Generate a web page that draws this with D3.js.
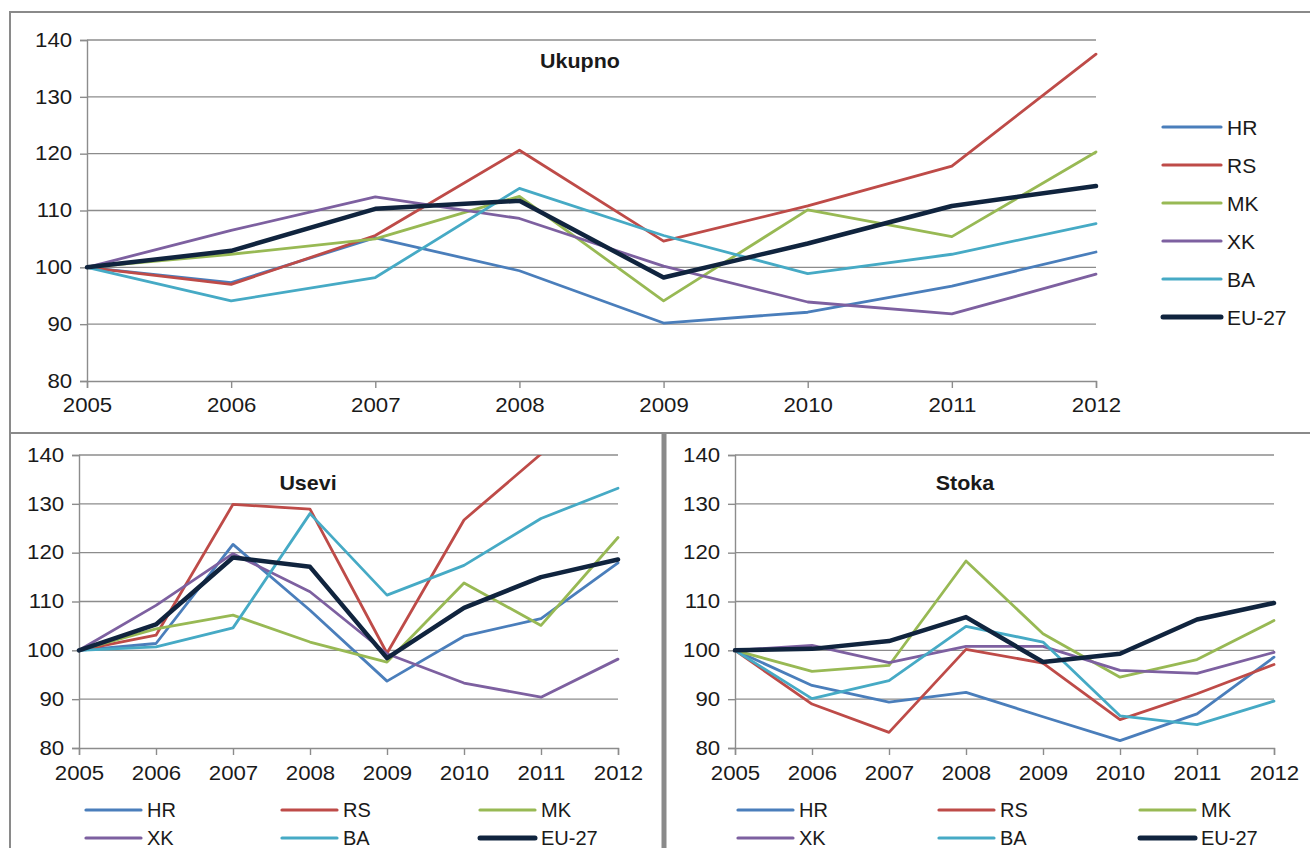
<!DOCTYPE html>
<html><head><meta charset="utf-8">
<script src="https://cdn.jsdelivr.net/npm/d3@7"></script>
<style>
html,body{margin:0;padding:0;background:#fff;}
svg{display:block;}
text{font-family:"Liberation Sans",Arial,sans-serif;fill:#1a1a1a;}
</style></head>
<body>
<svg id="chart" width="1310" height="848"></svg>
<script>
// ---- data ----
const years = [2005, 2006, 2007, 2008, 2009, 2010, 2011, 2012];
const seriesNames = ["HR", "RS", "MK", "XK", "BA", "EU-27"];
const seriesColors = ["#4a7ebb", "#be4b48", "#98b954", "#7d60a0", "#46aac5", "#10243e"];
const yTicks = [80, 90, 100, 110, 120, 130, 140];
const panelTitles = ["Ukupno", "Usevi", "Stoka"];

// Ukupno (total)
const ukupnoHR = [100, 97.3, 105.2, 99.4, 90.2, 92.1, 96.7, 102.7];
const ukupnoRS = [100, 97.0, 105.6, 120.6, 104.6, 110.8, 117.8, 137.5];
const ukupnoMK = [100, 102.3, 105.0, 112.5, 94.1, 110.1, 105.4, 120.3];
const ukupnoXK = [100, 106.5, 112.4, 108.6, 100.2, 93.9, 91.8, 98.8];
const ukupnoBA = [100, 94.1, 98.2, 113.9, 105.6, 98.9, 102.3, 107.7];
const ukupnoEU = [100, 102.9, 110.3, 111.7, 98.2, 104.2, 110.8, 114.3];

// Usevi (crops)
const useviHR = [100, 101.4, 121.7, 108.2, 93.7, 102.9, 106.5, 117.9];
const useviRS = [100, 103.1, 129.9, 128.9, 99.4, 126.7, 140.2, 152.0];
const useviMK = [100, 104.4, 107.2, 101.7, 97.6, 113.8, 105.1, 123.1];
const useviXK = [100, 109.2, 119.8, 112.0, 99.3, 93.3, 90.4, 98.2];
const useviBA = [100, 100.7, 104.6, 128.0, 111.3, 117.4, 127.0, 133.2];
const useviEU = [100, 105.3, 119.0, 117.1, 98.4, 108.7, 115.0, 118.6];

// Stoka (livestock)
const stokaHR = [100, 92.8, 89.4, 91.4, 86.4, 81.5, 87.0, 98.6];
const stokaRS = [100, 89.0, 83.2, 100.2, 97.4, 85.8, 91.1, 97.1];
const stokaMK = [100, 95.7, 96.9, 118.3, 103.4, 94.5, 98.1, 106.1];
const stokaXK = [100, 101.0, 97.5, 100.8, 100.8, 95.9, 95.3, 99.6];
const stokaBA = [100, 90.1, 93.8, 104.9, 101.7, 86.6, 84.8, 89.6];
const stokaEU = [100, 100.3, 101.9, 106.8, 97.6, 99.3, 106.3, 109.7];

const panelData = [
  [ukupnoHR, ukupnoRS, ukupnoMK, ukupnoXK, ukupnoBA, ukupnoEU],
  [useviHR, useviRS, useviMK, useviXK, useviBA, useviEU],
  [stokaHR, stokaRS, stokaMK, stokaXK, stokaBA, stokaEU]
];

// ---- layout ----
const svg = d3.select("#chart");
const frameColor = "#8a8a8a";
const gridColor = "#8c8c8c";

const panels = [
  {x0: 87, x1: 1096, yTop: 40, yBot: 381, title: {x: 580, y: 68},
   legend: {type: "vertical", x: 1163, y: 127, dy: 38, len: 58, fs: 21},
   tickFs: 19.5, labelBase: 412},
  {x0: 79, x1: 618, yTop: 455, yBot: 748, title: {x: 308, y: 490},
   legend: {type: "grid", xs: [86, 282, 480], ys: [810, 838], len: 55, fs: 20},
   tickFs: 19.5, labelBase: 780},
  {x0: 735, x1: 1274, yTop: 455, yBot: 748, title: {x: 965, y: 490},
   legend: {type: "grid", xs: [738, 939, 1140], ys: [810, 838], len: 55, fs: 20},
   tickFs: 19.5, labelBase: 780}
];

// frames
svg.append("line").attr("x1", 10).attr("x2", 10).attr("y1", 11).attr("y2", 848)
  .attr("stroke", frameColor).attr("stroke-width", 2);
svg.append("line").attr("x1", 9).attr("x2", 1310).attr("y1", 12).attr("y2", 12)
  .attr("stroke", frameColor).attr("stroke-width", 2);
svg.append("line").attr("x1", 9).attr("x2", 1310).attr("y1", 433).attr("y2", 433)
  .attr("stroke", frameColor).attr("stroke-width", 2);
svg.append("line").attr("x1", 664).attr("x2", 664).attr("y1", 432).attr("y2", 848)
  .attr("stroke", frameColor).attr("stroke-width", 5);

const stretch = 1.14;

panels.forEach((p, pi) => {
  const x = d3.scaleLinear().domain([years[0], years[years.length - 1]]).range([p.x0, p.x1]);
  const y = d3.scaleLinear().domain([80, 140]).range([p.yBot, p.yTop]);
  const g = svg.append("g");

  // gridlines
  g.append("g").selectAll("line").data(yTicks.filter(t => t > 80)).join("line")
    .attr("x1", p.x0).attr("x2", p.x1)
    .attr("y1", d => y(d)).attr("y2", d => y(d))
    .attr("stroke", gridColor).attr("stroke-width", 1.4);

  // y axis
  const yAxis = d3.axisLeft(y).tickValues(yTicks).tickSize(7).tickPadding(6).tickFormat(d3.format("d"));
  const ya = g.append("g").attr("transform", `translate(${p.x0},0)`).call(yAxis);
  ya.select(".domain").attr("stroke", gridColor).attr("stroke-width", 1.4);
  ya.selectAll(".tick line").attr("stroke", gridColor).attr("stroke-width", 1.4);
  ya.selectAll(".tick text").attr("font-size", p.tickFs).attr("fill", "#1a1a1a")
    .attr("font-family", '"Liberation Sans", Arial, sans-serif')
    .attr("transform", `scale(${stretch},1)`);

  // x axis
  const xAxis = d3.axisBottom(x).tickValues(years).tickSize(7).tickPadding(6).tickFormat(d3.format("d"));
  const xa = g.append("g").attr("transform", `translate(0,${p.yBot})`).call(xAxis);
  xa.select(".domain").attr("stroke", gridColor).attr("stroke-width", 1.4);
  xa.selectAll(".tick line").attr("stroke", gridColor).attr("stroke-width", 1.4);
  xa.selectAll(".tick text").attr("font-size", p.tickFs).attr("fill", "#1a1a1a")
    .attr("font-family", '"Liberation Sans", Arial, sans-serif')
    .attr("dy", null).attr("y", p.labelBase - p.yBot)
    .attr("transform", `scale(${stretch},1)`)
    .attr("x", 0);

  // clip
  const clipId = "clip" + pi;
  svg.append("clipPath").attr("id", clipId).append("rect")
    .attr("x", p.x0 - 10).attr("y", p.yTop).attr("width", p.x1 - p.x0 + 20).attr("height", p.yBot - p.yTop + 10);

  // title
  g.append("text").attr("x", p.title.x).attr("y", p.title.y).attr("text-anchor", "middle")
    .attr("font-weight", "bold").attr("font-size", 19.5)
    .attr("transform", `translate(${p.title.x},0) scale(1.1,1) translate(${-p.title.x},0)`)
    .text(panelTitles[pi]);

  // lines
  const line = d3.line().x((d, i) => x(years[i])).y(d => y(d));
  const lg = g.append("g").attr("clip-path", `url(#${clipId})`);
  panelData[pi].forEach((vals, si) => {
    lg.append("path").datum(vals)
      .attr("d", line)
      .attr("fill", "none")
      .attr("stroke", seriesColors[si])
      .attr("stroke-width", si === 5 ? 4.5 : 2.8)
      .attr("stroke-linejoin", "round")
      .attr("stroke-linecap", "round");
  });

  // legend
  const L = p.legend;
  seriesNames.forEach((name, si) => {
    let lx, ly;
    if (L.type === "vertical") { lx = L.x; ly = L.y + si * L.dy; }
    else { lx = L.xs[si % 3]; ly = L.ys[Math.floor(si / 3)]; }
    g.append("line").attr("x1", lx).attr("x2", lx + L.len).attr("y1", ly).attr("y2", ly)
      .attr("stroke", seriesColors[si]).attr("stroke-width", si === 5 ? 5 : 3.2)
      .attr("stroke-linecap", "round");
    g.append("text").attr("x", lx + L.len + 6).attr("y", ly).attr("dy", "0.36em")
      .attr("font-size", L.fs).text(name);
  });
});
</script>
</body></html>
